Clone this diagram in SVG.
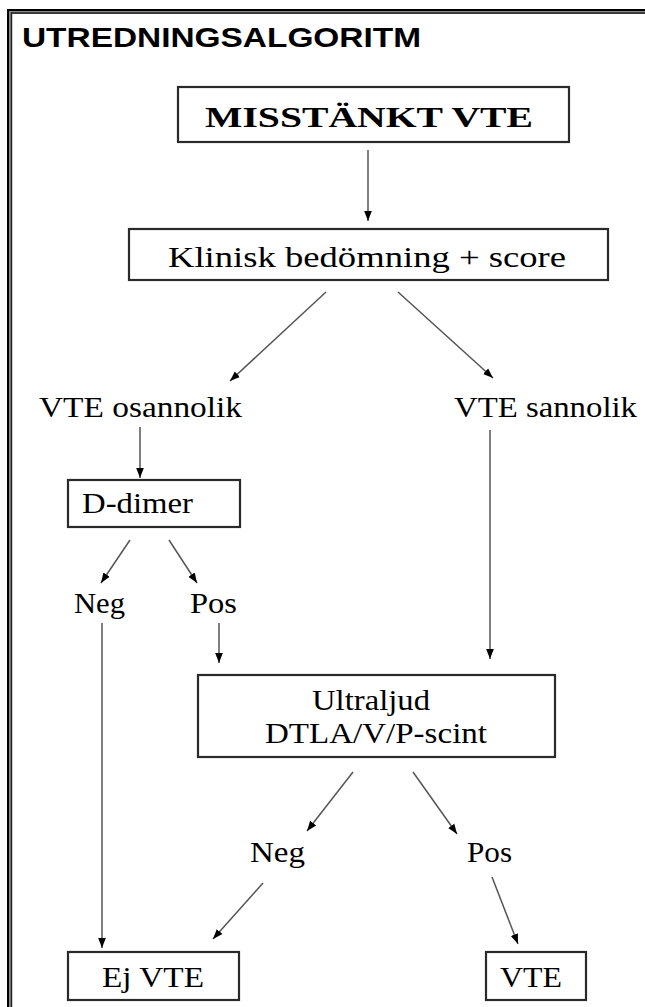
<svg xmlns="http://www.w3.org/2000/svg" width="645" height="1007" viewBox="0 0 645 1007">
  <style>
    .box { fill: #ffffff; stroke: #2a2a2a; stroke-width: 2.2; }
    .lbl { font-family: "Liberation Serif", "Times New Roman", serif; font-size: 29px; fill: #000000; }
    .edge { stroke: #555555; stroke-width: 1.5; fill: none; marker-end: url(#head); }
  </style>
  <defs>
    <marker id="head" markerUnits="userSpaceOnUse" markerWidth="12" markerHeight="12" viewBox="0 0 12 12" refX="10" refY="6" orient="auto">
      <path d="M0,2.2 L10,6 L0,9.8 Z" fill="#000000"/>
    </marker>
  </defs>

  <rect width="645" height="1007" fill="#ffffff"/>

  <!-- double frame, open to the right and bottom -->
  <g id="frame" fill="none">
    <rect x="9.5" y="11.5" width="700" height="1100" stroke="#8a8a8a" stroke-width="5"/>
    <rect x="8" y="10" width="700" height="1100" stroke="#000000" stroke-width="2"/>
    <rect x="11.5" y="13" width="700" height="1100" stroke="#222222" stroke-width="1.5"/>
  </g>

  <g id="title">
    <text x="22" y="47" font-family="'Liberation Sans', Arial, sans-serif" font-weight="bold" font-size="28" textLength="399" lengthAdjust="spacingAndGlyphs" fill="#000000">UTREDNINGSALGORITM</text>
  </g>

  <g id="connectors">
    <line class="edge" x1="368" y1="150" x2="368" y2="221"/>
    <line class="edge" x1="326" y1="292" x2="230" y2="381"/>
    <line class="edge" x1="398" y1="292" x2="493" y2="378"/>
    <line class="edge" x1="140" y1="427" x2="140" y2="478"/>
    <line class="edge" x1="130" y1="540" x2="101" y2="583"/>
    <line class="edge" x1="169" y1="540" x2="197" y2="583"/>
    <line class="edge" x1="102" y1="623" x2="102" y2="948"/>
    <line class="edge" x1="219" y1="623" x2="219" y2="663"/>
    <line class="edge" x1="490" y1="430" x2="490" y2="659"/>
    <line class="edge" x1="353" y1="772" x2="307" y2="831"/>
    <line class="edge" x1="413" y1="772" x2="457" y2="834"/>
    <line class="edge" x1="263" y1="883" x2="213" y2="939"/>
    <line class="edge" x1="492" y1="877" x2="518" y2="944"/>
  </g>

  <g id="misstankt-vte">
    <rect class="box" x="178" y="87" width="391" height="55"/>
    <text class="lbl" x="205" y="127" font-weight="bold" font-size="38" textLength="328" lengthAdjust="spacingAndGlyphs">MISSTÄNKT VTE</text>
  </g>

  <g id="klinisk-bedomning">
    <rect class="box" x="129" y="229" width="479" height="51"/>
    <text class="lbl" x="168" y="267" font-size="31" textLength="398" lengthAdjust="spacingAndGlyphs">Klinisk bedömning + score</text>
  </g>

  <g id="vte-osannolik">
    <text class="lbl" x="39" y="417" textLength="203" lengthAdjust="spacingAndGlyphs">VTE osannolik</text>
  </g>

  <g id="vte-sannolik">
    <text class="lbl" x="454" y="417" textLength="183" lengthAdjust="spacingAndGlyphs">VTE sannolik</text>
  </g>

  <g id="d-dimer">
    <rect class="box" x="68" y="480" width="172" height="47"/>
    <text class="lbl" x="82" y="513" textLength="111" lengthAdjust="spacingAndGlyphs">D-dimer</text>
  </g>

  <g id="d-dimer-neg">
    <text class="lbl" x="74" y="613" textLength="51" lengthAdjust="spacingAndGlyphs">Neg</text>
  </g>

  <g id="d-dimer-pos">
    <text class="lbl" x="190" y="613" textLength="47" lengthAdjust="spacingAndGlyphs">Pos</text>
  </g>

  <g id="ultraljud">
    <rect class="box" x="198" y="675" width="357" height="82"/>
    <text class="lbl" x="312" y="710" textLength="118" lengthAdjust="spacingAndGlyphs">Ultraljud</text>
    <text class="lbl" x="265" y="743" textLength="222" lengthAdjust="spacingAndGlyphs">DTLA/V/P-scint</text>
  </g>

  <g id="ultraljud-neg">
    <text class="lbl" x="250" y="862" textLength="55" lengthAdjust="spacingAndGlyphs">Neg</text>
  </g>

  <g id="ultraljud-pos">
    <text class="lbl" x="467" y="862" textLength="45" lengthAdjust="spacingAndGlyphs">Pos</text>
  </g>

  <g id="ej-vte">
    <rect class="box" x="68" y="952" width="171" height="48"/>
    <text class="lbl" x="102" y="987" textLength="102" lengthAdjust="spacingAndGlyphs">Ej VTE</text>
  </g>

  <g id="vte">
    <rect class="box" x="486" y="952" width="100" height="48"/>
    <text class="lbl" x="500" y="987" textLength="62" lengthAdjust="spacingAndGlyphs">VTE</text>
  </g>
</svg>
